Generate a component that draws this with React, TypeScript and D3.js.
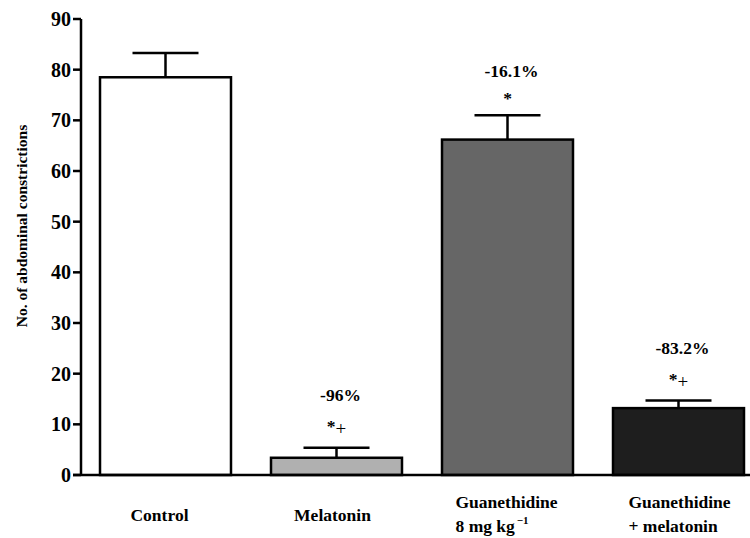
import * as d3 from "d3";

const categories = ["Control", "Melatonin", "Guanethidine 8 mg kg-1", "Guanethidine + melatonin"];
const means = [78.5, 3.4, 66.2, 13.2];
const upperErr = [83.3, 5.4, 71.0, 14.7];
const percentLabels = ["", "-96%", "-16.1%", "-83.2%"];
const markLabels = ["", "*+", "*", "*+"];
const barFills = ["#ffffff", "#b0b0b0", "#666666", "#1e1e1e"];
const yTicks = [0, 10, 20, 30, 40, 50, 60, 70, 80, 90];

const W = 750;
const H = 538;
const font = "'Liberation Serif', 'Times New Roman', serif";

const App = () => {
  const y = d3.scaleLinear().domain([0, 90]).range([475, 19]);
  const x = d3.scaleBand<string>()
    .domain(categories)
    .range([80, 764])
    .paddingInner(0.234)
    .paddingOuter(0.117);
  const bw = x.bandwidth();
  const capW = 66;

  // category labels: single line or two lines, block left-aligned
  const catText = (c: string, i: number) => {
    const cx = (x(c) as number) + bw / 2;
    if (i === 0) return <text x={cx - 6} y={521} textAnchor="middle">Control</text>;
    if (i === 1) return <text x={cx - 4} y={521} textAnchor="middle">Melatonin</text>;
    if (i === 2)
      return (
        <text x={cx - 52} y={508}>
          <tspan>Guanethidine</tspan>
          <tspan x={cx - 52} y={532}>8 mg kg</tspan>
          <tspan dy={-8} dx={2} fontSize={11}>−1</tspan>
        </text>
      );
    return (
      <text x={cx - 50} y={508}>
        <tspan>Guanethidine</tspan>
        <tspan x={cx - 50} y={532}>+ melatonin</tspan>
      </text>
    );
  };

  return (
    <svg width={W} height={H} style={{ position: "absolute", left: 0, top: 0, fontFamily: font }}>
      <rect width={W} height={H} fill="#fff" />

      {/* y axis */}
      <line x1={81} x2={81} y1={y(90)} y2={y(0)} stroke="#000" strokeWidth={2.5} />
      {yTicks.map((t) => (
        <g key={t}>
          <line x1={73} x2={81} y1={y(t)} y2={y(t)} stroke="#000" strokeWidth={2.5} />
          <text x={71} y={y(t)} dy="0.35em" textAnchor="end" fontSize={20} fontWeight="bold">{t}</text>
        </g>
      ))}
      <text
        transform={`translate(22,226) rotate(-90)`}
        textAnchor="middle"
        dy="0.35em"
        fontSize={15.5}
        fontWeight="bold"
      >No. of abdominal constrictions</text>

      {/* bars */}
      {categories.map((c, i) => {
        const bx = x(c) as number;
        const cx = bx + bw / 2;
        return (
          <g key={c}>
            <line x1={cx} x2={cx} y1={y(means[i])} y2={y(upperErr[i])} stroke="#000" strokeWidth={2.5} />
            <line x1={cx - capW / 2} x2={cx + capW / 2} y1={y(upperErr[i])} y2={y(upperErr[i])} stroke="#000" strokeWidth={2.5} />
            <rect
              x={bx}
              y={y(means[i])}
              width={bw}
              height={y(0) - y(means[i])}
              fill={barFills[i]}
              stroke="#000"
              strokeWidth={2.5}
            />
          </g>
        );
      })}

      {/* x baseline */}
      <line x1={73} x2={750} y1={y(0)} y2={y(0)} stroke="#000" strokeWidth={2.5} />

      {/* annotations */}
      {categories.map((c, i) => {
        if (!percentLabels[i]) return null;
        const cx = (x(c) as number) + bw / 2;
        const top = y(upperErr[i]);
        const mark = markLabels[i];
        return (
          <g key={"a" + c} fontSize={17.5} fontWeight="bold" textAnchor="middle">
            <text x={cx + 4} y={top - (i === 2 ? 38 : 47)}>{percentLabels[i]}</text>
            {mark === "*" ? (
              <text x={cx} y={top - 11}>*</text>
            ) : (
              <text x={cx} y={top - 13}>
                <tspan dy={-3}>*</tspan>
                <tspan dy={3} fontWeight="normal" fontSize={19}>+</tspan>
              </text>
            )}
          </g>
        );
      })}

      <g fontSize={17.5} fontWeight="bold">
        {categories.map((c, i) => <g key={"l" + c}>{catText(c, i)}</g>)}
      </g>
    </svg>
  );
};

export default App;
